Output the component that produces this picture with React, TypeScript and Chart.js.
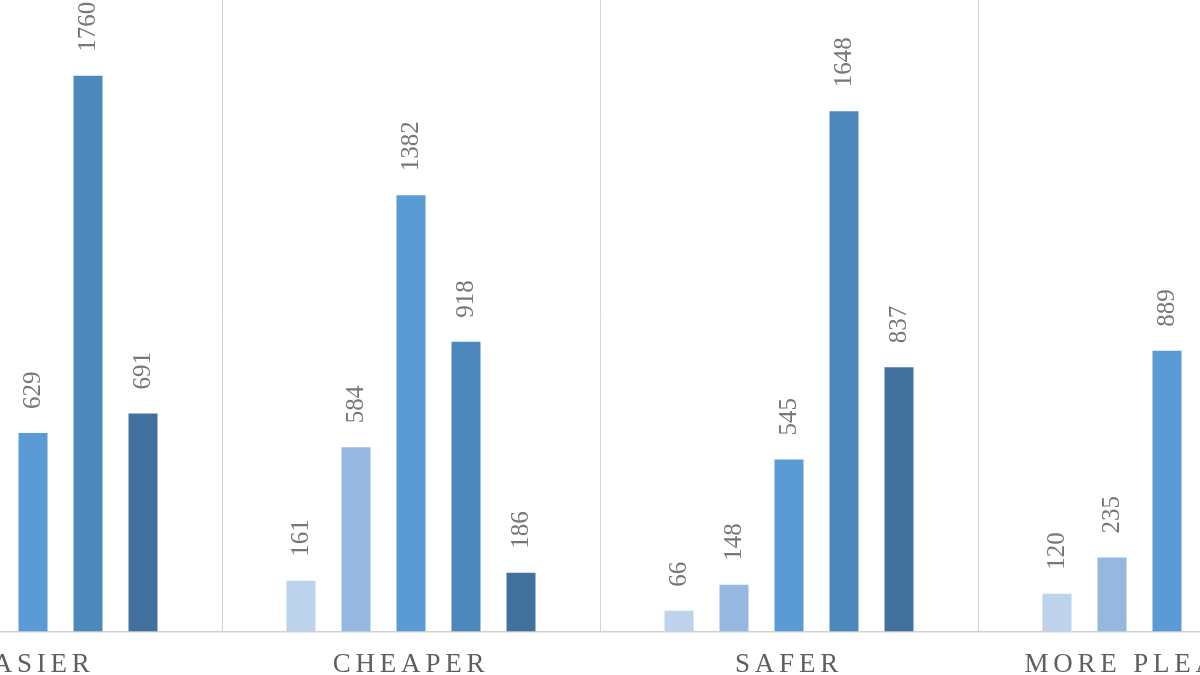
import React, { useEffect, useRef } from "react";
import { Chart, registerables } from "chart.js";

Chart.register(...registerables);

const categories = ["EASIER", "CHEAPER", "SAFER", "MORE PLEASANT"];
const seriesNames = ["Much worse", "Worse", "Same", "Better", "Much better"];
const series1 = [42, 161, 66, 120];
const series2 = [196, 584, 148, 235];
const series3 = [629, 1382, 545, 889];
const series4 = [1760, 918, 1648, 1420];
const series5 = [691, 186, 837, 610];
const seriesColors = ["#bdd2eb", "#96b8e0", "#5b9bd5", "#4d88bd", "#42719e"];
const yMax = 2000;

const FONT = "'Liberation Serif', 'Times New Roman', serif";

const letterSpacingPlugin = {
  id: "axisLetterSpacing",
  beforeDraw(chart: any) {
    (chart.ctx as any).letterSpacing = "4.8px";
  },
  beforeDatasetsDraw(chart: any) {
    (chart.ctx as any).letterSpacing = "0px";
  },
};

const valueLabelPlugin = {
  id: "valueLabels",
  afterDatasetsDraw(chart: any) {
    const ctx = chart.ctx;
    ctx.save();
    (ctx as any).letterSpacing = "0px";
    ctx.font = `25px ${FONT}`;
    ctx.fillStyle = "#777777";
    ctx.textAlign = "left";
    ctx.textBaseline = "middle";
    chart.data.datasets.forEach((ds: any, di: number) => {
      const meta = chart.getDatasetMeta(di);
      meta.data.forEach((el: any, i: number) => {
        const v = ds.data[i];
        ctx.save();
        ctx.translate(el.x, el.y - 24);
        ctx.rotate(-Math.PI / 2);
        ctx.fillText(String(v), 0, 0);
        ctx.restore();
      });
    });
    ctx.restore();
  },
};

export default function App() {
  const ref = useRef<HTMLCanvasElement | null>(null);

  useEffect(() => {
    if (!ref.current) return;
    const all = [series1, series2, series3, series4, series5];
    const chart = new Chart(ref.current, {
      type: "bar",
      data: {
        labels: categories,
        datasets: all.map((d, i) => ({
          label: seriesNames[i],
          data: d,
          backgroundColor: seriesColors[i],
          borderWidth: 0,
          categoryPercentage: 0.7275,
          barPercentage: 0.527,
        })),
      },
      options: {
        animation: false,
        responsive: false,
        devicePixelRatio: 1,
        layout: { padding: 0 },
        plugins: {
          legend: { display: false },
          tooltip: { enabled: false },
          title: { display: false },
        },
        scales: {
          x: {
            type: "category",
            offset: true,
            grid: {
              display: true,
              offset: true,
              color: "#d4d4d4",
              lineWidth: 1,
              drawTicks: false,
            },
            border: { display: true, color: "#d0d0d0", width: 1.5 },
            ticks: {
              color: "#5f5f5f",
              padding: 17,
              font: { family: FONT, size: 27 },
              maxRotation: 0,
              autoSkip: false,
            },
          },
          y: {
            display: false,
            min: 0,
            max: yMax,
          },
        },
      },
      plugins: [letterSpacingPlugin, valueLabelPlugin],
    });
    return () => chart.destroy();
  }, []);

  return (
    <div
      style={{
        position: "fixed",
        left: 0,
        top: 0,
        width: 1200,
        height: 675,
        overflow: "hidden",
        background: "#ffffff",
      }}
    >
      <canvas
        ref={ref}
        width={1512}
        height={698}
        style={{ position: "absolute", left: -156, top: 0, width: 1512, height: 698 }}
      />
    </div>
  );
}
